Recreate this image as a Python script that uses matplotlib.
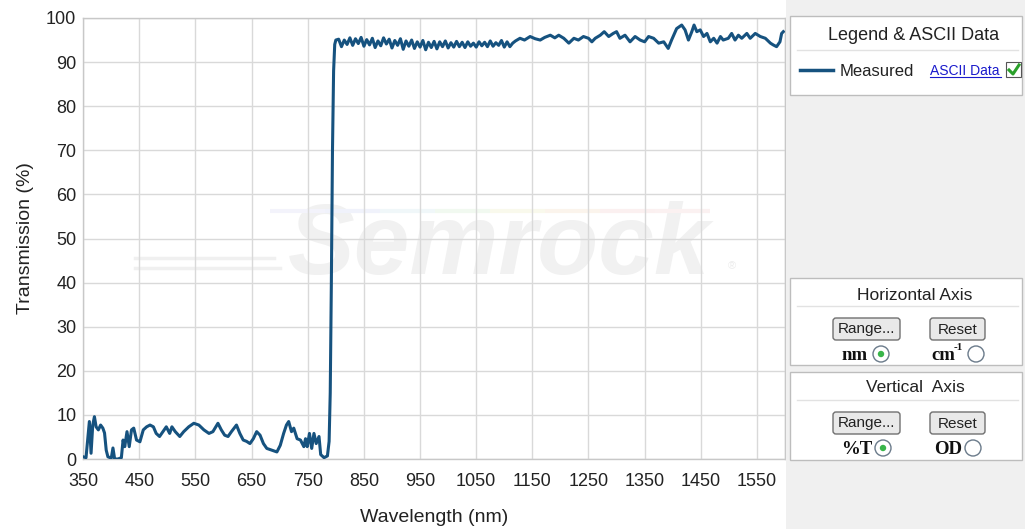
import matplotlib
matplotlib.use("Agg")
import matplotlib.pyplot as plt
from matplotlib.patches import Rectangle, FancyBboxPatch, Circle

# ---------------- data ----------------
wavelength_low = [350, 355, 358, 361, 364, 367, 370, 373, 377, 381, 385, 388, 391, 394,
                  400, 403, 406, 412, 418, 421, 424, 428, 432, 436, 440, 445, 451, 457,
                  463, 469, 475, 480, 486, 492, 498, 504, 508, 514, 522, 529, 538, 547,
                  556, 565, 574, 581, 590, 596, 602, 608, 614, 623, 629, 635, 641, 647,
                  653, 659, 665, 671, 677, 686, 695, 701, 707, 712, 716, 721, 725, 731,
                  737, 743, 746, 749, 753, 757, 761, 765, 770, 773, 779, 785, 788, 790,
                  792, 794, 796, 798, 800]
transmission_low = [0.5, 0.3, 4.3, 8.5, 1.3, 7.7, 9.6, 7.3, 6.6, 7.7, 7.0, 5.9, 2.0, 0.5,
                    0.2, 2.5, 0.0, 0.0, 0.3, 4.3, 2.8, 6.2, 2.8, 6.6, 7.0, 4.3, 3.9, 6.6,
                    7.3, 7.7, 7.3, 5.8, 5.1, 6.2, 7.3, 5.8, 7.3, 6.2, 5.1, 6.2, 7.3, 8.1,
                    7.7, 6.6, 5.8, 6.2, 8.1, 6.6, 5.4, 5.1, 6.2, 7.7, 5.8, 4.3, 4.0, 3.5,
                    4.6, 6.2, 5.4, 3.5, 2.4, 2.0, 1.6, 3.1, 5.8, 7.7, 8.5, 6.2, 7.0, 4.6,
                    4.3, 2.8, 4.6, 2.8, 5.8, 2.4, 5.8, 3.5, 5.1, 1.0, 0.3, 0.7, 4.0, 15.0,
                    40.0, 70.0, 88.0, 94.0, 95.0]
wavelength_high = [805, 810, 815, 820, 825, 830, 835, 840, 845, 850, 855, 860, 865, 870,
                   875, 880, 885, 890, 895, 900, 905, 910, 915, 920, 925, 930, 935, 940,
                   945, 950, 955, 960, 965, 970, 975, 980, 985, 990, 995, 1000, 1005,
                   1010, 1015, 1020, 1025, 1030, 1035, 1040, 1045, 1050, 1055, 1060,
                   1065, 1070, 1075, 1080, 1085, 1090, 1095, 1100, 1105, 1110, 1115,
                   1120, 1128, 1136, 1146, 1155, 1164, 1172, 1182, 1190, 1197, 1206,
                   1215, 1224, 1232, 1241, 1250, 1256, 1262, 1271, 1278, 1286, 1294,
                   1300, 1306, 1315, 1324, 1333, 1342, 1350, 1357, 1366, 1375, 1384,
                   1392, 1398, 1407, 1416, 1422, 1428, 1434, 1438, 1443, 1449, 1455,
                   1461, 1467, 1473, 1479, 1485, 1490, 1499, 1505, 1511, 1517, 1523,
                   1532, 1538, 1547, 1556, 1565, 1574, 1579, 1585, 1591, 1594, 1597]
transmission_high = [95.2, 93.5, 95.0, 94.0, 95.5, 93.8, 95.3, 94.2, 95.6, 93.6, 95.1,
                     93.9, 95.4, 93.3, 94.8, 93.7, 95.5, 94.1, 95.2, 93.2, 94.9, 93.8,
                     95.3, 92.9, 94.8, 93.6, 95.0, 93.1, 94.6, 93.4, 94.9, 92.8, 94.5,
                     93.3, 94.7, 93.0, 94.6, 93.5, 94.8, 93.2, 94.4, 93.4, 94.7, 93.5,
                     94.5, 93.3, 94.6, 93.6, 94.3, 93.4, 94.6, 93.7, 94.5, 93.5, 94.8,
                     93.6, 94.4, 93.8, 94.9, 93.4, 94.6, 93.5, 94.3, 94.8, 95.4, 95.0,
                     95.8, 95.3, 95.0, 95.6, 96.1, 95.5, 96.1, 95.4, 94.3, 95.4, 95.0,
                     95.8, 95.4, 94.6, 95.4, 96.1, 96.9, 95.8, 96.5, 96.9, 95.4, 96.1,
                     94.6, 95.8, 95.0, 94.6, 95.8, 95.4, 94.3, 94.6, 93.1, 95.0, 97.6,
                     98.4, 97.3, 95.0, 96.9, 98.4, 96.9, 97.3, 95.8, 96.5, 94.6, 95.4,
                     94.3, 95.8, 95.0, 95.4, 96.5, 95.0, 96.1, 95.4, 96.5, 95.4, 96.5,
                     95.8, 95.4, 94.3, 93.9, 93.5, 94.6, 96.5, 96.9]

wavelength = wavelength_low + wavelength_high
transmission = transmission_low + transmission_high

x_ticks = [350, 450, 550, 650, 750, 850, 950, 1050, 1150, 1250, 1350, 1450, 1550]
y_ticks = [0, 10, 20, 30, 40, 50, 60, 70, 80, 90, 100]
series_name = "Measured"

# ---------------- style ----------------
LINE = "#16527f"
GRID = "#d9d9d9"
PANEL = "#f0f0f0"
plt.rcParams['font.family'] = ['Liberation Sans', 'DejaVu Sans']

W, H = 1025, 529
fig = plt.figure(figsize=(W / 100, H / 100), dpi=100)
fig.patch.set_facecolor("white")

def fx(x):
    return x / W

def fy(y):
    return 1 - y / H

# main axes: plot area px 83..785 (x), 18..459 (y)
ax = fig.add_axes([fx(83.2), fy(459), (785 - 83.2) / W, (459 - 18) / H])
ax.set_xlim(350, 1600)
ax.set_ylim(0, 100)
ax.set_xticks(x_ticks + [1600])
ax.set_xticklabels([str(v) for v in x_ticks] + [""])
ax.set_yticks(y_ticks)
ax.set_axisbelow(True)
ax.grid(True, color=GRID, linewidth=1.0)
ax.tick_params(length=0, labelsize=13, colors="#222222")
ax.tick_params(axis='x', pad=10)
ax.tick_params(axis='y', pad=5)
for s in ax.spines.values():
    s.set_color("#c8c8c8")
    s.set_linewidth(1.0)
ax.set_xlabel("Wavelength (nm)", fontsize=14, color="#222222", labelpad=14)
ax.set_ylabel("Transmission (%)", fontsize=14, color="#222222", labelpad=9)

# watermark
ax.text(1090, 42.0, "Semrock", fontsize=72, fontweight="bold", style="italic",
        color="#f1f1f1", ha="center", va="baseline", zorder=0.1)
ax.text(1505, 43.0, "®", fontsize=8, color="#ececec", ha="center", va="baseline", zorder=0.1)
ax.plot([442, 690], [45.6, 45.6], color="#f0f0f0", lw=2.5, zorder=0.1)
ax.plot([442, 700], [43.4, 43.4], color="#f0f0f0", lw=2.5, zorder=0.1)
rainbow = ["#f3f3fb", "#f0f2fb", "#f0f7f9", "#f1f9f0", "#f9f9ec", "#fbf4ec", "#fbf0f0", "#fbf1f1"]
seg = (1467 - 683) / len(rainbow)
for i, c in enumerate(rainbow):
    ax.plot([683 + i * seg, 683 + (i + 1) * seg], [56.3, 56.3], color=c, lw=3, zorder=0.1,
            solid_capstyle="butt")

ax.plot(wavelength, transmission, color=LINE, lw=2.2, zorder=3)

# ---------------- right-hand panel overlay (pixel coords) ----------------
ov = fig.add_axes([0, 0, 1, 1], zorder=5)
ov.set_xlim(0, W)
ov.set_ylim(H, 0)
ov.axis("off")
ov.patch.set_alpha(0)

ov.add_patch(Rectangle((786, 0), W - 786, H, facecolor=PANEL, edgecolor="none"))

def box(x0, y0, x1, y1):
    ov.add_patch(Rectangle((x0, y0), x1 - x0, y1 - y0, facecolor="white",
                           edgecolor="#bdbdbd", lw=1.0))

# legend box
box(790, 16, 1022, 95)
ov.text(914, 36, "Legend & ASCII Data", fontsize=13, ha="center", va="center", color="#222222")
ov.plot([797, 1018], [50, 50], color="#e2e2e2", lw=1)
ov.plot([800, 833], [70, 70], color=LINE, lw=2.5)
ov.text(840, 71, series_name, fontsize=12, ha="left", va="center", color="#222222")
ov.text(930, 71, "ASCII Data", fontsize=10, ha="left", va="center", color="#1a1acc")
ov.plot([930, 1001], [77, 77], color="#1a1acc", lw=0.8)
ov.add_patch(Rectangle((1006, 62), 15, 15, facecolor="white", edgecolor="#555555", lw=0.8))
ov.plot([1009, 1013, 1019], [70, 74, 65], color="#2aa02a", lw=2.2)

def button(x0, y0, w, h, label):
    ov.add_patch(FancyBboxPatch((x0, y0), w, h, boxstyle="round,pad=0,rounding_size=3",
                                facecolor="#e9e9e9", edgecolor="#707070", lw=1.0))
    ov.text(x0 + w / 2, y0 + h / 2 + 0.5, label, fontsize=11, ha="center", va="center",
            color="#222222")

def radio(cx, cy, on):
    ov.add_patch(Circle((cx, cy), 8, facecolor="white", edgecolor="#6a7a8a", lw=1.0))
    if on:
        ov.add_patch(Circle((cx, cy), 3.2, facecolor="#39b54a", edgecolor="none"))

# horizontal axis box
box(790, 278, 1022, 365)
ov.text(915, 295, "Horizontal Axis", fontsize=12.5, ha="center", va="center", color="#222222")
ov.plot([797, 1018], [306, 306], color="#e2e2e2", lw=1)
button(833, 318, 67, 22, "Range...")
button(930, 318, 55, 22, "Reset")
ov.text(855, 355, "nm", fontsize=13.5, fontweight="bold", family="Liberation Serif",
        ha="center", va="center", color="#111111")
radio(881, 354, True)
ov.text(931, 355, "cm", fontsize=13.5, fontweight="bold", family="Liberation Serif",
        ha="left", va="center", color="#111111")
ov.text(954, 348, "-1", fontsize=8, fontweight="bold", family="Liberation Serif",
        ha="left", va="center", color="#111111")
radio(976, 354, False)

# vertical axis box
box(790, 372, 1022, 460)
ov.text(915, 388, "Vertical  Axis", fontsize=12.5, ha="center", va="center", color="#222222")
ov.plot([797, 1018], [400, 400], color="#e2e2e2", lw=1)
button(833, 412, 67, 22, "Range...")
button(930, 412, 55, 22, "Reset")
ov.text(857, 449, "%T", fontsize=13.5, fontweight="bold", family="Liberation Serif",
        ha="center", va="center", color="#111111")
radio(883, 448, True)
ov.text(948, 449, "OD", fontsize=13.5, fontweight="bold", family="Liberation Serif",
        ha="center", va="center", color="#111111")
radio(973, 448, False)

fig.savefig("out.png", dpi=100)
